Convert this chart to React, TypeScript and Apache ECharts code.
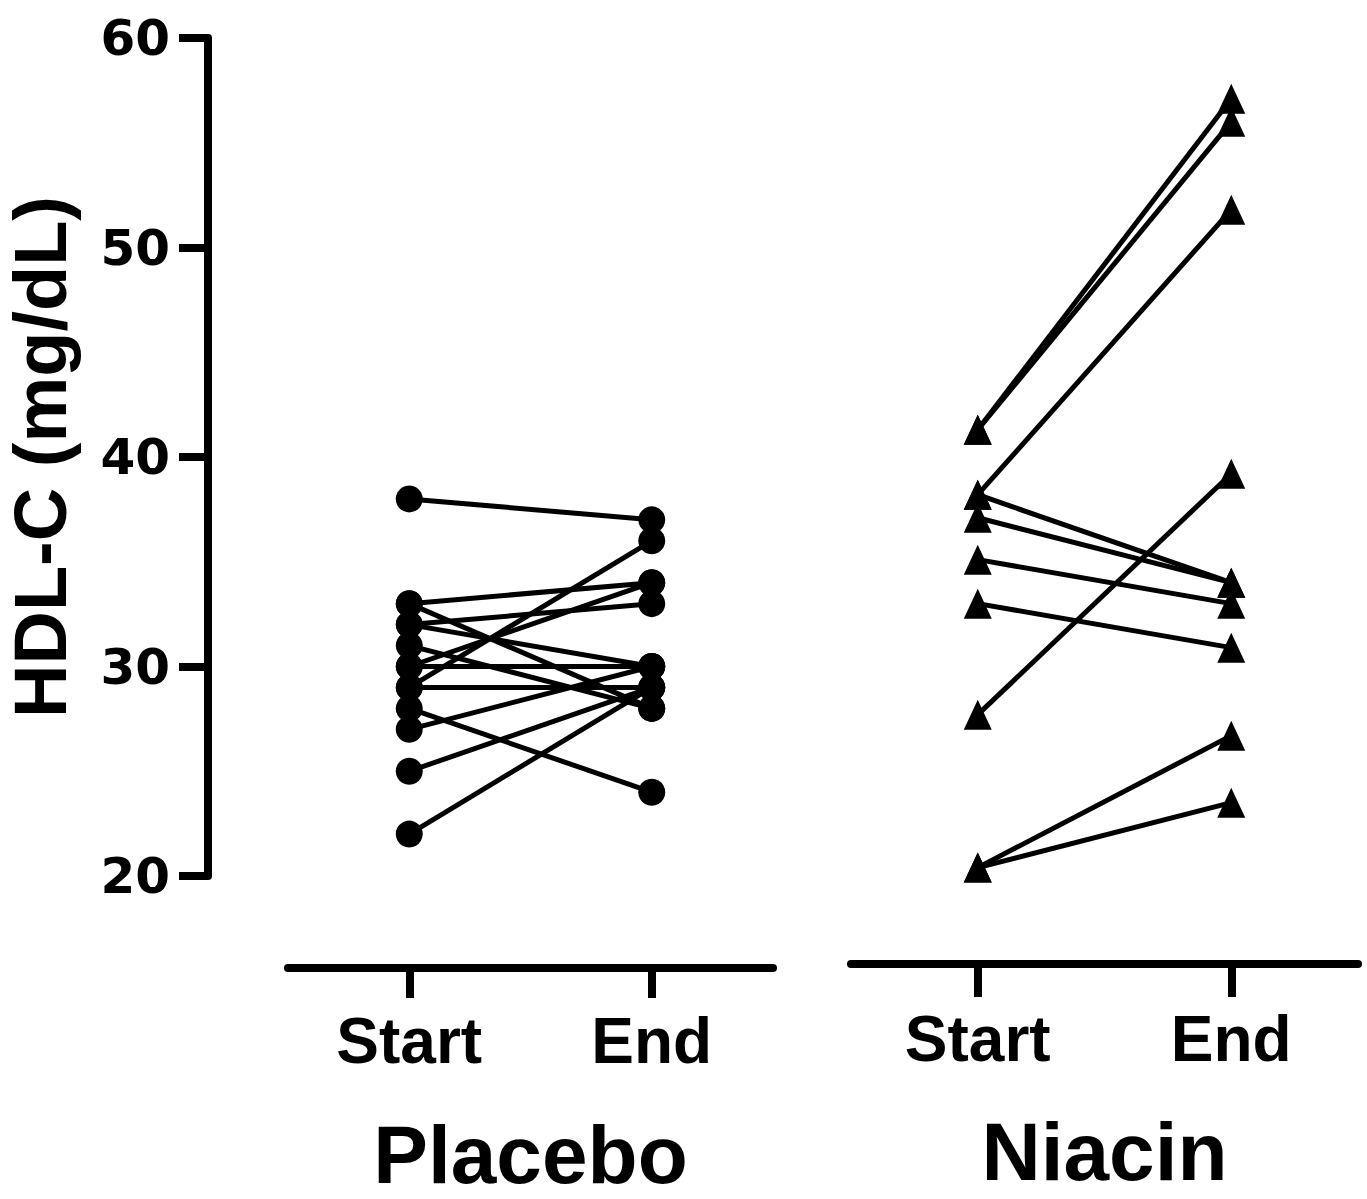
import React, { useEffect, useRef } from "react";
import * as echarts from "echarts";

// ---- Data ----
const timepoints = ["Start", "End"];
const groupNames = ["Placebo", "Niacin"];
const yTitle = "HDL-C (mg/dL)";
const yMin = 20;
const yMax = 60;
const yInterval = 10;

// Placebo subjects (paired Start -> End)
const placeboStart = [38, 33, 33, 32, 32, 31, 30, 30, 29, 29, 28, 27, 25, 22];
const placeboEnd = [37, 34, 28, 33, 30, 28, 30, 34, 36, 29, 24, 30, 29, 29];

// Niacin subjects (paired Start -> End)
const niacinStart = [41.3, 41.3, 38.2, 38.2, 37.1, 35.1, 33.0, 27.7, 20.4, 20.4];
const niacinEnd = [57.1, 56.0, 51.8, 34.0, 34.0, 33.0, 30.9, 39.2, 26.7, 23.5];

const BLACK = "#000000";
const SANS = "'Liberation Sans', Arial, Helvetica, sans-serif";

function makeXAxis(gridIndex: number, name: string, offset: number, nameGap: number, labelMargin: number, tickLen: number) {
  return {
    type: "category",
    gridIndex,
    data: timepoints,
    boundaryGap: true,
    offset,
    axisLine: { show: true, onZero: false, lineStyle: { color: BLACK, width: 8 } },
    axisTick: { show: true, alignWithLabel: true, length: tickLen, lineStyle: { color: BLACK, width: 8 } },
    axisLabel: {
      color: BLACK,
      fontSize: 64,
      fontWeight: "bold",
      fontFamily: SANS,
      margin: labelMargin,
    },
    splitLine: { show: false },
    name,
    nameLocation: "middle",
    nameGap,
    nameTextStyle: { color: BLACK, fontSize: 82, fontWeight: "bold", fontFamily: SANS },
  };
}

function pairSeries(starts: number[], ends: number[], axisIndex: number, symbol: string, symbolSize: any) {
  return starts.map((s, i) => ({
    type: "line",
    xAxisIndex: axisIndex,
    yAxisIndex: axisIndex,
    data: [s, ends[i]],
    symbol,
    symbolSize,
    showSymbol: true,
    lineStyle: { color: BLACK, width: 5 },
    itemStyle: { color: BLACK, borderWidth: 0 },
    emphasis: { disabled: true },
    silent: true,
  }));
}

export default function App() {
  const ref = useRef<HTMLDivElement>(null);

  useEffect(() => {
    document.body.style.margin = "0";
    if (!ref.current) return;
    const chart = echarts.init(ref.current, undefined, { renderer: "svg" });
    const option: any = {
      animation: false,
      backgroundColor: "#ffffff",
      grid: [
        { left: 288, top: 38, width: 485, height: 838, containLabel: false, outerBoundsMode: "none" },
        { left: 851, top: 38, width: 507, height: 838, containLabel: false, outerBoundsMode: "none" },
      ],
      xAxis: [
        makeXAxis(0, groupNames[0], 92, 145, 41, 30),
        makeXAxis(1, groupNames[1], 88, 146, 43, 33),
      ],
      yAxis: [
        {
          type: "value",
          gridIndex: 0,
          min: yMin,
          max: yMax,
          interval: yInterval,
          offset: 80,
          axisLine: { show: true, onZero: false, lineStyle: { color: BLACK, width: 8 } },
          axisTick: { show: true, length: 29, lineStyle: { color: BLACK, width: 8 } },
          splitLine: { show: false },
          axisLabel: {
            color: BLACK,
            fontSize: 50,
            fontWeight: "bold",
            fontFamily: "'DejaVu Sans', sans-serif",
            margin: 38,
          },
          name: yTitle,
          nameLocation: "middle",
          nameRotate: 90,
          nameGap: 131,
          nameTextStyle: { color: BLACK, fontSize: 74, fontWeight: "bold", fontFamily: SANS },
        },
        {
          type: "value",
          gridIndex: 1,
          min: yMin,
          max: yMax,
          interval: yInterval,
          show: false,
          splitLine: { show: false },
        },
      ],
      series: [
        ...pairSeries(placeboStart, placeboEnd, 0, "circle", 27),
        ...pairSeries(niacinStart, niacinEnd, 1, "triangle", [28, 30]),
      ],
    };
    chart.setOption(option);
    return () => chart.dispose();
  }, []);

  return (
    <div
      ref={ref}
      style={{ position: "absolute", left: 0, top: 0, width: 1367, height: 1199, background: "#fff" }}
    />
  );
}
